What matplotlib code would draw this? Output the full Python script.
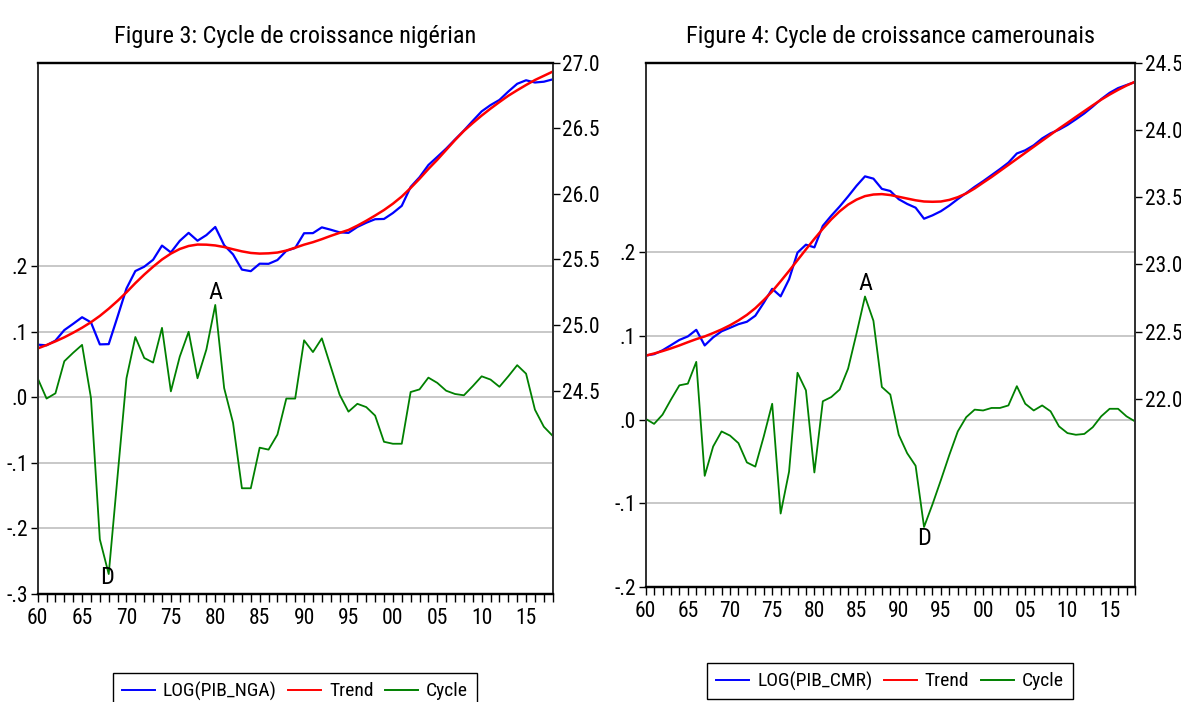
import matplotlib
matplotlib.use("Agg")
import matplotlib.pyplot as plt
from matplotlib import font_manager as fm
from matplotlib.lines import Line2D
from matplotlib.ticker import FixedLocator, MultipleLocator

# pick a narrow font if one is installed, otherwise Liberation Sans at smaller sizes
_names = {f.name for f in fm.fontManager.ttflist}
if 'Roboto Condensed' in _names:
    FAMILY, FS, TFS, LFS = 'Roboto Condensed', 15.5, 17.5, 14
elif 'Liberation Sans Narrow' in _names:
    FAMILY, FS, TFS, LFS = 'Liberation Sans Narrow', 16, 19, 15
else:
    FAMILY, FS, TFS, LFS = 'Liberation Sans', 13, 16, 12
plt.rcParams['font.family'] = [FAMILY, 'DejaVu Sans']

years = list(range(1960, 2019))
year_ticks = [1960, 1965, 1970, 1975, 1980, 1985, 1990, 1995, 2000, 2005, 2010, 2015]
year_labels = ["60", "65", "70", "75", "80", "85", "90", "95", "00", "05", "10", "15"]

# ---------------- Nigeria ----------------
nga_log = [24.851, 24.846, 24.882, 24.962, 25.010, 25.060, 25.021, 24.853, 24.855, 25.065,
           25.279, 25.412, 25.445, 25.498, 25.606, 25.554, 25.642, 25.703, 25.643, 25.686,
           25.748, 25.609, 25.539, 25.423, 25.411, 25.468, 25.467, 25.496, 25.566, 25.588,
           25.700, 25.701, 25.745, 25.727, 25.707, 25.703, 25.748, 25.780, 25.807, 25.809,
           25.854, 25.909, 26.053, 26.127, 26.220, 26.282, 26.345, 26.415, 26.483, 26.557,
           26.629, 26.677, 26.716, 26.780, 26.839, 26.866, 26.849, 26.855, 26.873]
nga_trend = [24.822, 24.848, 24.876, 24.907, 24.942, 24.980, 25.022, 25.070, 25.125, 25.185,
             25.250, 25.320, 25.385, 25.445, 25.500, 25.545, 25.580, 25.603, 25.614, 25.613,
             25.607, 25.595, 25.578, 25.562, 25.550, 25.545, 25.547, 25.553, 25.568, 25.590,
             25.613, 25.632, 25.655, 25.680, 25.703, 25.725, 25.758, 25.795, 25.835, 25.877,
             25.925, 25.980, 26.045, 26.115, 26.190, 26.260, 26.335, 26.410, 26.480, 26.540,
             26.597, 26.650, 26.700, 26.748, 26.790, 26.830, 26.868, 26.900, 26.932]
nga_cycle = [0.029, -0.002, 0.006, 0.055, 0.068, 0.080, -0.001, -0.217, -0.270, -0.120,
             0.029, 0.092, 0.060, 0.053, 0.106, 0.009, 0.062, 0.100, 0.029, 0.073,
             0.141, 0.014, -0.039, -0.139, -0.139, -0.077, -0.080, -0.057, -0.002, -0.002,
             0.087, 0.069, 0.090, 0.047, 0.004, -0.022, -0.010, -0.015, -0.028, -0.068,
             -0.071, -0.071, 0.008, 0.012, 0.030, 0.022, 0.010, 0.005, 0.003, 0.017,
             0.032, 0.027, 0.016, 0.032, 0.049, 0.036, -0.019, -0.045, -0.059]

# ---------------- Cameroon ----------------
cmr_log = [22.323, 22.333, 22.362, 22.400, 22.439, 22.465, 22.514, 22.398, 22.458, 22.503,
           22.529, 22.556, 22.574, 22.619, 22.715, 22.819, 22.763, 22.890, 23.088, 23.147,
           23.127, 23.287, 23.362, 23.431, 23.506, 23.585, 23.655, 23.638, 23.562, 23.546,
           23.485, 23.450, 23.422, 23.340, 23.365, 23.396, 23.438, 23.486, 23.531, 23.577,
           23.619, 23.664, 23.709, 23.757, 23.825, 23.849, 23.886, 23.937, 23.975, 24.002,
           24.037, 24.079, 24.123, 24.174, 24.229, 24.276, 24.311, 24.334, 24.356]
cmr_trend = [22.322, 22.338, 22.356, 22.376, 22.398, 22.422, 22.445, 22.465, 22.490, 22.517,
             22.548, 22.584, 22.625, 22.675, 22.735, 22.800, 22.875, 22.952, 23.032, 23.112,
             23.190, 23.265, 23.335, 23.395, 23.445, 23.482, 23.508, 23.520, 23.523, 23.516,
             23.503, 23.490, 23.477, 23.468, 23.466, 23.468, 23.480, 23.500, 23.528, 23.565,
             23.608, 23.650, 23.695, 23.740, 23.785, 23.830, 23.875, 23.920, 23.965, 24.010,
             24.053, 24.097, 24.140, 24.183, 24.225, 24.263, 24.298, 24.330, 24.358]
cmr_cycle = [0.001, -0.005, 0.006, 0.024, 0.041, 0.043, 0.069, -0.067, -0.032, -0.014,
             -0.019, -0.028, -0.051, -0.056, -0.020, 0.019, -0.112, -0.062, 0.056, 0.035,
             -0.063, 0.022, 0.027, 0.036, 0.061, 0.103, 0.147, 0.118, 0.039, 0.030,
             -0.018, -0.040, -0.055, -0.128, -0.101, -0.072, -0.042, -0.014, 0.003, 0.012,
             0.011, 0.014, 0.014, 0.017, 0.040, 0.019, 0.011, 0.017, 0.010, -0.008,
             -0.016, -0.018, -0.017, -0.009, 0.004, 0.013, 0.013, 0.004, -0.002]

BLUE = "#0000ff"
RED = "#ff0000"
GREEN = "#008000"
GRID = "#c8c8c8"


def panel(rect, title, log, trend, cycle, label_log,
          cyc_ticks, cyc_labels, cyc_lim, log_ticks, log_labels, log_lim,
          ann, legend_center):
    ax = fig.add_axes(rect)
    ax2 = ax.twinx()
    ax.set_zorder(1)
    ax2.set_zorder(2)
    ax2.patch.set_visible(False)

    for v in cyc_ticks[1:]:
        ax.axhline(v, color=GRID, lw=1.4, zorder=0)

    ax.plot(years, cycle, color=GREEN, lw=1.3, zorder=3)
    ax2.plot(years, log, color=BLUE, lw=1.6)
    ax2.plot(years, trend, color=RED, lw=1.8)

    ax.set_xlim(1960, 2018)
    ax.set_ylim(*cyc_lim)
    ax2.set_ylim(*log_lim)

    ax.yaxis.set_major_locator(FixedLocator(cyc_ticks))
    ax.set_yticklabels(cyc_labels)
    ax2.yaxis.set_major_locator(FixedLocator(log_ticks))
    ax2.set_yticklabels(log_labels)
    ax.xaxis.set_major_locator(FixedLocator(year_ticks))
    ax.set_xticklabels(year_labels)
    ax.xaxis.set_minor_locator(MultipleLocator(1))

    ax.tick_params(axis='x', which='both', direction='out', length=6, width=1,
                   labelsize=FS, pad=4)
    ax.tick_params(axis='y', direction='out', length=5, width=1, labelsize=FS, pad=2)
    ax2.tick_params(axis='y', direction='out', length=5, width=1, labelsize=FS, pad=2)

    for a in (ax, ax2):
        a.spines['top'].set_linewidth(1.6)
        a.spines['bottom'].set_linewidth(1.6)
        a.spines['left'].set_linewidth(1.3)
        a.spines['right'].set_linewidth(1.3)
        a.spines['left'].set_color("#333333")
        a.spines['right'].set_color("#333333")

    ax.set_title(title, fontsize=TFS, pad=14)

    for (txt, x, y) in ann:
        ax.text(x, y, txt, fontsize=FS + 2, ha='center', va='center', zorder=5)

    handles = [Line2D([], [], color=BLUE, lw=1.4),
               Line2D([], [], color=RED, lw=1.4),
               Line2D([], [], color=GREEN, lw=1.4)]
    leg = fig.legend(handles, [label_log, "Trend", "Cycle"], loc='center',
                     bbox_to_anchor=legend_center, ncol=3, fontsize=LFS,
                     frameon=True, fancybox=False, edgecolor='black',
                     framealpha=1, handlelength=1.7, handletextpad=0.4,
                     columnspacing=0.6, borderpad=0.45)
    leg.get_frame().set_linewidth(1.0)
    return ax, ax2


fig = plt.figure(figsize=(11.81, 7.02), dpi=100)

panel([0.0319, 0.1543, 0.4361, 0.7564], "Figure 3: Cycle de croissance nigérian",
      nga_log, nga_trend, nga_cycle, "LOG(PIB_NGA)",
      [-0.3, -0.2, -0.1, 0.0, 0.1, 0.2], ["-.3", "-.2", "-.1", ".0", ".1", ".2"],
      (-0.3, 0.511),
      [24.5, 25.0, 25.5, 26.0, 26.5, 27.0], ["24.5", "25.0", "25.5", "26.0", "26.5", "27.0"],
      (22.953, 27.0),
      [("A", 1980, 0.16), ("D", 1967.8, -0.275)],
      (295 / 1181, 1 - 691 / 702))

panel([0.5467, 0.1634, 0.4143, 0.7473], "Figure 4: Cycle de croissance camerounais",
      cmr_log, cmr_trend, cmr_cycle, "LOG(PIB_CMR)",
      [-0.2, -0.1, 0.0, 0.1, 0.2], ["-.2", "-.1", ".0", ".1", ".2"],
      (-0.2, 0.426),
      [22.0, 22.5, 23.0, 23.5, 24.0, 24.5], ["22.0", "22.5", "23.0", "23.5", "24.0", "24.5"],
      (20.60, 24.5),
      [("A", 1986, 0.162), ("D", 1993, -0.142)],
      (890 / 1181, 1 - 681 / 702))

fig.savefig("out.png", dpi=100)
